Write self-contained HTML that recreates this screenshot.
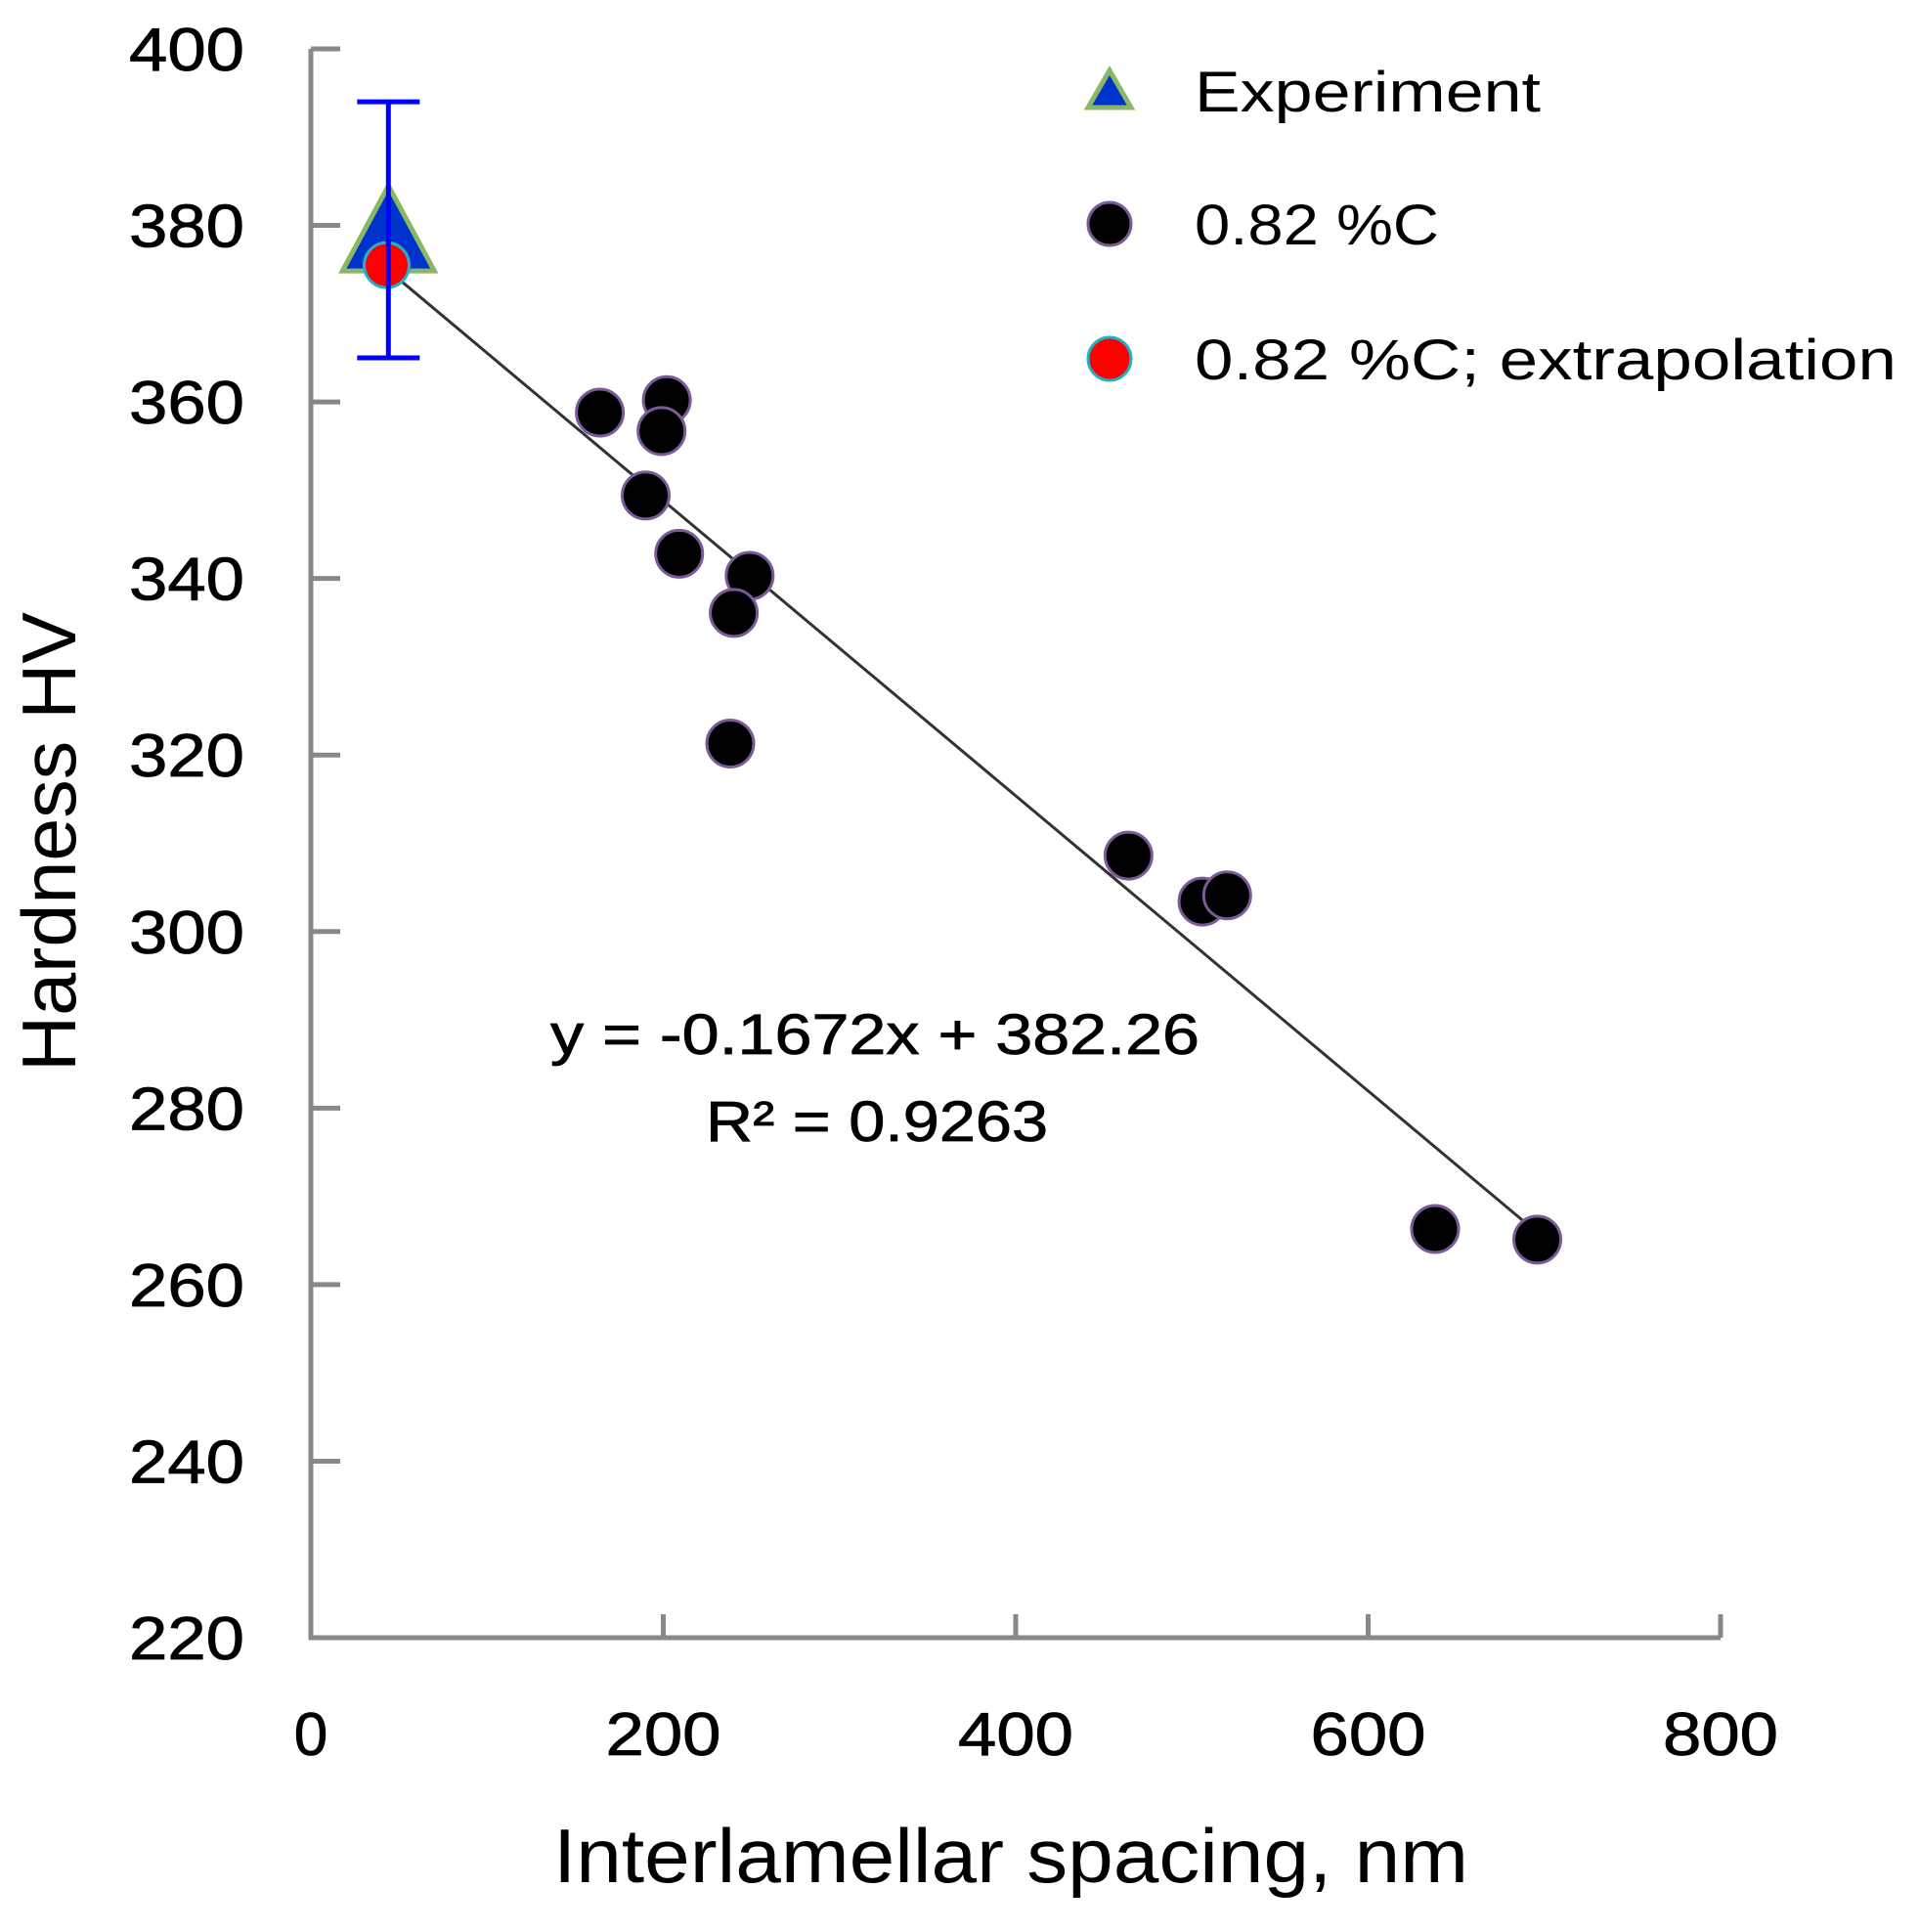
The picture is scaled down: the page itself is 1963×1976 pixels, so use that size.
<!DOCTYPE html>
<html><head><meta charset="utf-8"><style>
html,body{margin:0;padding:0;background:#fff;}
svg{display:block;font-family:"Liberation Sans",sans-serif;}
</style></head><body>
<svg id="chart" width="1963" height="1976" viewBox="0 0 1963 1976">
<g id="axes"></g>
<g id="marks"></g>
<g id="legend"></g>
<text x="895" y="1078" font-size="58" text-anchor="middle" textLength="664" lengthAdjust="spacingAndGlyphs" stroke="#000" stroke-width="0.8">y = -0.1672x + 382.26</text>
<text x="897" y="1167" font-size="58" text-anchor="middle" textLength="350" lengthAdjust="spacingAndGlyphs" stroke="#000" stroke-width="0.8">R² = 0.9263</text>
<text x="1034" y="1925" font-size="78" text-anchor="middle" textLength="936" lengthAdjust="spacingAndGlyphs">Interlamellar spacing, nm</text>
<text transform="translate(77,861) rotate(-90)" font-size="78" text-anchor="middle" textLength="470" lengthAdjust="spacingAndGlyphs">Hardness HV</text>
</svg>
<script>
const xTicks = [0, 200, 400, 600, 800];
const yTicks = [220, 240, 260, 280, 300, 320, 340, 360, 380, 400];
const spacing = [164, 202, 199, 190, 209, 249, 240, 238, 464, 506, 520, 638, 696];
const hardness = [358.8, 360.2, 356.7, 349.4, 342.8, 340.3, 336.1, 321.3, 308.6, 303.4, 304.1, 266.3, 265.1];
const expX = [44];
const expY = [379.5];
const expErr = [14.5];
const extrapX = [43];
const extrapY = [375.5];
const fitSlope = -0.1672;
const fitIntercept = 382.26;
const fitRange = [45, 695];

const NS = "http://www.w3.org/2000/svg";
const X0 = 318, X1 = 1760, Y0 = 1675, Y1 = 50;
function sx(v){ return X0 + (v - 0) / 800 * (X1 - X0); }
function sy(v){ return Y0 - (v - 220) / 180 * (Y0 - Y1); }
function mk(tag, attrs, parent){
  const e = document.createElementNS(NS, tag);
  for (const k in attrs) e.setAttribute(k, attrs[k]);
  parent.appendChild(e);
  return e;
}
const axes = document.getElementById('axes');
const marks = document.getElementById('marks');
const legend = document.getElementById('legend');

let el = mk('path', {d:`M${X0},${Y1} L${X0},${Y0} L${X1},${Y0}`, fill:'none', stroke:'#888', 'stroke-width':5}, axes);



yTicks.forEach(v => {
  const t = mk('line', {x1:X0, x2:X0+30, y1:sy(v), y2:sy(v), stroke:'#888', 'stroke-width':5}, axes);
  
  
  const l = mk('text', {x:250, y:sy(v)+22, 'font-size':62, 'text-anchor':'end', textLength:118, lengthAdjust:'spacingAndGlyphs', stroke:'#000', 'stroke-width':0.8}, axes);
  l.textContent = v;
  
  
});
xTicks.forEach(v => {
  if (v > 0) {
    const t = mk('line', {x1:sx(v), x2:sx(v), y1:Y0, y2:Y0-24, stroke:'#888', 'stroke-width':5}, axes);
    
    
  }
  const attrs = {x:sx(v), y:1795, 'font-size':62, 'text-anchor':'middle', stroke:'#000', 'stroke-width':0.8};
  if (v > 0) { attrs.textLength = 118; attrs.lengthAdjust = 'spacingAndGlyphs'; }
  const l = mk('text', attrs, axes);
  l.textContent = v;
  
  
});

el = mk('line', {x1:sx(fitRange[0]), y1:sy(fitIntercept + fitSlope*fitRange[0]), x2:sx(fitRange[1]), y2:sy(fitIntercept + fitSlope*fitRange[1]), stroke:'#333', 'stroke-width':3}, marks);



spacing.forEach((x, i) => {
  const c = mk('circle', {cx:sx(x), cy:sy(hardness[i]), r:24, fill:'#000', stroke:'#7a5a98', 'stroke-width':3}, marks);
  
  
});

expX.forEach((x, i) => {
  const cx = sx(x), cy = sy(expY[i]);
  const tri = mk('polygon', {points:`${cx},${cy-45} ${cx-47},${cy+42} ${cx+47},${cy+42}`, fill:'#0033cc', stroke:'#8ab862', 'stroke-width':5}, marks);
  
  
});
extrapX.forEach((x, i) => {
  const c = mk('circle', {cx:sx(x), cy:sy(extrapY[i]), r:23, fill:'#ff0000', stroke:'#20b0c8', 'stroke-width':3}, marks);
  
  
});
expX.forEach((x, i) => {
  const cx = sx(x), top = sy(expY[i] + expErr[i]), bot = sy(expY[i] - expErr[i]);
  const g = mk('path', {d:`M${cx},${top} L${cx},${bot} M${cx-32},${top} L${cx+32},${top} M${cx-32},${bot} L${cx+32},${bot}`, stroke:'#0000ff', 'stroke-width':5, fill:'none'}, marks);
  
  
});

const lx = 1135, tx = 1222;
let m = mk('polygon', {points:`${lx},72 ${lx-22},110 ${lx+22},110`, fill:'#0033cc', stroke:'#8ab862', 'stroke-width':5}, legend);


m = mk('circle', {cx:lx, cy:229, r:22, fill:'#000', stroke:'#7a5a98', 'stroke-width':3}, legend);


m = mk('circle', {cx:lx, cy:367, r:22, fill:'#ff0000', stroke:'#20b0c8', 'stroke-width':3}, legend);


const labels = ['Experiment', '0.82 %C', '0.82 %C; extrapolation'];
const rowsY = [114, 250, 388];
const lens = [354, 250, 718];
labels.forEach((s, i) => {
  const t = mk('text', {x:tx, y:rowsY[i], 'font-size':58, textLength:lens[i], lengthAdjust:'spacingAndGlyphs'}, legend);
  t.textContent = s;
  
  
});
</script>
</body></html>
